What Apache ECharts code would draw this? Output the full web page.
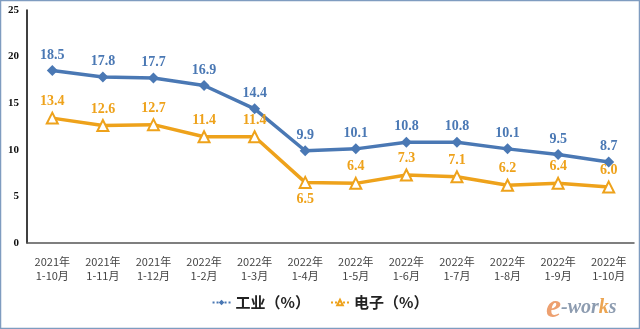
<!DOCTYPE html>
<html><head><meta charset="utf-8">
<script src="https://cdn.jsdelivr.net/npm/echarts@6/dist/echarts.min.js"></script>
<style>html,body{margin:0;padding:0;background:#fff}#c{width:640px;height:329px}</style>
</head><body><div id="c"></div>
<script>
const categories = ['2021年\n1-10月','2021年\n1-11月','2021年\n1-12月','2022年\n1-2月','2022年\n1-3月','2022年\n1-4月','2022年\n1-5月','2022年\n1-6月','2022年\n1-7月','2022年\n1-8月','2022年\n1-9月','2022年\n1-10月'];
const industry = [18.5,17.8,17.7,16.9,14.4,9.9,10.1,10.8,10.8,10.1,9.5,8.7];
const electronics = [13.4,12.6,12.7,11.4,11.4,6.5,6.4,7.3,7.1,6.2,6.4,6.0];
const yTicks = [0,5,10,15,20,25];

const blue = '#4a78b4', orange = '#eea21b';
const labelFont = {fontFamily:'Liberation Serif', fontWeight:'bold', fontSize:14};
const chart = echarts.init(document.getElementById('c'));
chart.setOption({
  animation:false,
  grid:{left:27,right:6,top:10,bottom:86},
  graphic:[
    {type:'rect',shape:{x:0.5,y:0.5,width:639,height:328},style:{fill:'none',stroke:'#7f9cc0',lineWidth:1.5},z:-1},
    {type:'text',left:546,top:291,style:{
      text:'{e|e}{w|-wor}{k|k}{w|s}',
      rich:{
        e:{fontFamily:'Liberation Serif',fontStyle:'italic',fontWeight:'bold',fontSize:34,fill:'#eda070',color:'#eda070'},
        w:{fontFamily:'Liberation Serif',fontStyle:'italic',fontWeight:'bold',fontSize:20,fill:'#8d9cb0',color:'#8d9cb0'},
        k:{fontFamily:'Liberation Serif',fontStyle:'italic',fontWeight:'bold',fontSize:20,fill:'#eca552',color:'#eca552'}
      }}}
  ],
  legend:{top:290,left:'center',itemGap:20,itemWidth:18,itemHeight:7,
    lineStyle:{width:2,type:'dotted'},
    textStyle:{fontFamily:'Noto Sans CJK SC',fontSize:15,fontWeight:'bold',color:'#222'},
    data:['工业（%）','电子（%）']},
  xAxis:{type:'category',data:categories,boundaryGap:true,
    axisLine:{lineStyle:{color:'#555',width:1.5}},axisTick:{show:false},
    axisLabel:{interval:0,color:'#444',fontSize:11,fontFamily:'Noto Sans CJK SC',lineHeight:14,margin:12}},
  yAxis:{type:'value',min:0,max:25,interval:5,
    axisLine:{show:true,lineStyle:{color:'#000',width:1.5}},axisTick:{show:false},splitLine:{show:false},
    axisLabel:{color:'#111',fontSize:11,fontFamily:'Liberation Serif',fontWeight:'bold',margin:8,
      formatter:v=>yTicks.includes(v)?String(v):''}},
  series:[
    {name:'工业（%）',type:'line',data:industry,symbol:'diamond',symbolSize:11,
      lineStyle:{color:blue,width:3.5},itemStyle:{color:blue},
      label:{show:true,position:'top',distance:3,color:blue,...labelFont,formatter:p=>p.value.toFixed(1)}},
    {name:'电子（%）',type:'line',data:electronics.map((v,i)=>i===5?{value:v,label:{position:'bottom',distance:3}}:v),symbol:'triangle',symbolSize:11,
      lineStyle:{color:orange,width:3.5},itemStyle:{color:'#fff',borderColor:orange,borderWidth:2},
      label:{show:true,position:'top',distance:3,color:orange,...labelFont,formatter:p=>p.value.toFixed(1)}}
  ]
});
</script></body></html>
